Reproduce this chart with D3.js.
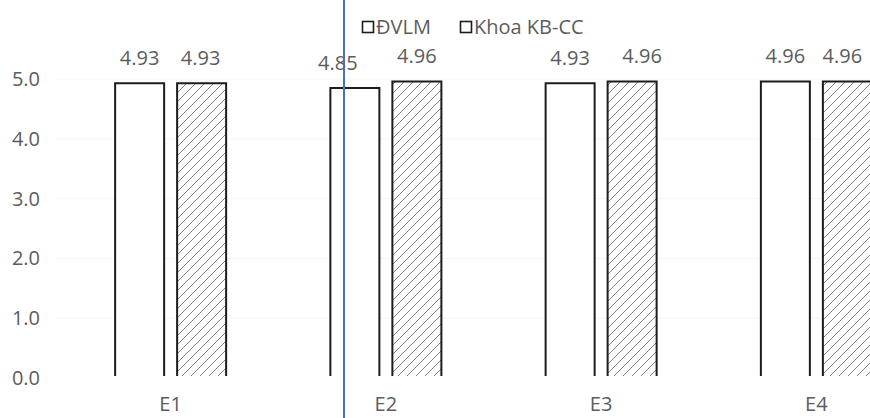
<!DOCTYPE html>
<html>
<head>
<meta charset="utf-8">
<script src="https://cdn.jsdelivr.net/npm/d3@7"></script>
<style>
  html, body { margin: 0; padding: 0; background: #fff; }
  svg { display: block; font-family: "Open Sans", sans-serif; }
</style>
</head>
<body>
<svg id="chart" width="870" height="418"></svg>
<script>
// ---- data ----
const categories = ["E1", "E2", "E3", "E4"];
const seriesNames = ["ĐVLM", "Khoa KB-CC"];
const dvlm = [4.93, 4.85, 4.93, 4.96];
const khoa = [4.93, 4.96, 4.96, 4.96];
const yTicks = [0, 1, 2, 3, 4, 5];

// ---- layout / style ----
const W = 870, H = 418;
const textColor = "#5c5c5c";
const barStroke = "#1c1c1c";
const fontSize = 20;
// small manual nudges of value labels seen in the reference (px), [series][category]
const labelNudge = [[0, -17, 0, 0], [-1, 0, 10, -5]];

const svg = d3.select("#chart");

const defs = svg.append("defs");
const pat = defs.append("pattern")
  .attr("id", "hatch")
  .attr("patternUnits", "userSpaceOnUse")
  .attr("width", 9).attr("height", 9);
pat.append("rect").attr("width", 9).attr("height", 9).attr("fill", "#fff");
pat.append("path")
  .attr("d", "M-2,2 l4,-4 M0,9 l9,-9 M7,11 l4,-4")
  .attr("stroke", "#808080").attr("stroke-width", 1);

const x = d3.scaleBand().domain(categories).range([63, 924]).padding(0);
const sub = d3.scaleBand().domain(seriesNames)
  .range([x.bandwidth() / 2 - 55.5, x.bandwidth() / 2 + 55.5])
  .paddingInner(13 / 62).paddingOuter(0);
const y = d3.scaleLinear().domain([0, 5]).range([378, 79]);

// faint gridlines (scan shows almost invisible ones)
svg.append("g").selectAll("line").data(yTicks.slice(1)).join("line")
  .attr("x1", 55).attr("x2", W)
  .attr("y1", d => y(d)).attr("y2", d => y(d))
  .attr("stroke", "#f5f5f5").attr("stroke-width", 1);

// y axis labels
const yAxis = d3.axisLeft(y).tickValues(yTicks).tickFormat(d3.format(".1f")).tickSize(0).tickPadding(0);
const gy = svg.append("g").attr("transform", "translate(40,0)").call(yAxis);
gy.select(".domain").remove();
gy.selectAll("text").attr("fill", textColor).style("font-size", fontSize + "px")
  .style("font-family", "'Open Sans', sans-serif");

// x axis labels
const xAxis = d3.axisBottom(x).tickSize(0).tickPadding(0);
const gx = svg.append("g").attr("transform", "translate(0,397)").call(xAxis);
gx.select(".domain").remove();
gx.selectAll("text").attr("fill", textColor).style("font-size", fontSize + "px")
  .style("font-family", "'Open Sans', sans-serif");

// bars
const seriesData = [dvlm, khoa];
const fills = ["#fff", "url(#hatch)"];
seriesData.forEach((vals, si) => {
  const g = svg.append("g");
  const rows = categories.map((c, i) => ({ c, v: vals[i], i }));
  g.selectAll("rect").data(rows).join("rect")
    .attr("x", d => x(d.c) + sub(seriesNames[si]))
    .attr("y", d => y(d.v))
    .attr("width", sub.bandwidth())
    .attr("height", d => y(0) - y(d.v) - 2)
    .attr("fill", fills[si]);
  g.selectAll("path").data(rows).join("path")
    .attr("d", d => {
      const x0 = x(d.c) + sub(seriesNames[si]);
      const x1 = x0 + sub.bandwidth();
      const yb = y(0) - 2;
      return `M${x0},${yb} V${y(d.v)} H${x1} V${yb}`;
    })
    .attr("fill", "none").attr("stroke", barStroke).attr("stroke-width", 2);
  g.selectAll("text").data(rows).join("text")
    .attr("x", d => x(d.c) + sub(seriesNames[si]) + sub.bandwidth() / 2 + labelNudge[si][d.i])
    .attr("y", d => y(d.v) - 18)
    .attr("text-anchor", "middle")
    .attr("fill", textColor)
    .style("font-size", fontSize + "px")
    .text(d => d.v.toFixed(2));
});

// legend
const legend = svg.append("g").attr("transform", "translate(362,21)");
const legX = [0, 98];
seriesNames.forEach((name, i) => {
  const lg = legend.append("g").attr("transform", `translate(${legX[i]},0)`);
  lg.append("rect").attr("x", 0.5).attr("y", 0.5).attr("width", 11).attr("height", 11)
    .attr("fill", "#fff").attr("stroke", barStroke).attr("stroke-width", 1.6);
  lg.append("text").attr("x", 14).attr("y", 13)
    .attr("fill", textColor).style("font-size", fontSize + "px").text(name);
});

// blue vertical marker line present in the scanned reference
svg.append("line")
  .attr("x1", 344).attr("x2", 344).attr("y1", 0).attr("y2", H)
  .attr("stroke", "#4a6ccf").attr("stroke-width", 2);
</script>
</body>
</html>
